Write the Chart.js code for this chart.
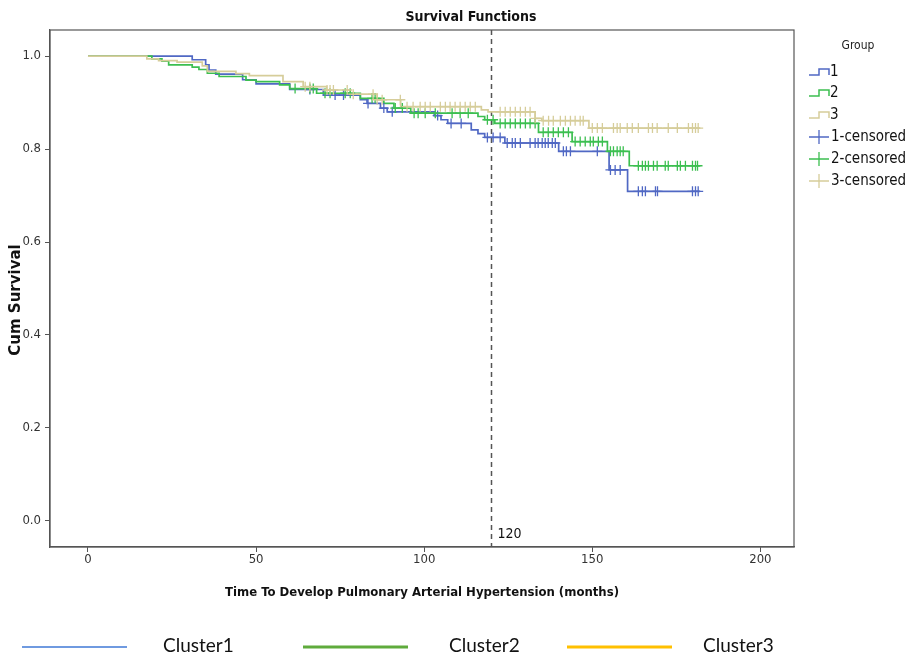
<!DOCTYPE html>
<html><head><meta charset="utf-8">
<script src="https://cdn.jsdelivr.net/npm/chart.js@4/dist/chart.umd.min.js"></script>
<style>html,body{margin:0;padding:0;background:#fff}canvas{display:block}</style>
</head><body>
<canvas id="c" width="914" height="657"></canvas>
<script>
// ---- data ----
const groupNames = ['1', '2', '3'];
const censoredNames = ['1-censored', '2-censored', '3-censored'];
const clusterNames = ['Cluster1', 'Cluster2', 'Cluster3'];
const xTicks = [0, 50, 100, 150, 200];
const yTicks = [0.0, 0.2, 0.4, 0.6, 0.8, 1.0];
const refTime = 120;

const g1Time = [0, 31, 35, 36, 38, 46, 50, 60, 70, 81, 83, 87, 89, 103, 105, 107, 114, 116, 118, 124, 140, 155, 160.5, 182];
const g1Surv = [1.0, 0.992, 0.981, 0.970, 0.961, 0.949, 0.940, 0.928, 0.916, 0.906, 0.898, 0.888, 0.880, 0.872, 0.863, 0.855, 0.841, 0.833, 0.825, 0.813, 0.795, 0.755, 0.709, 0.709];
const g1Cens = [66, 73.5, 76, 83.3, 88, 90.5, 104, 108, 111, 118.8, 120.5, 122.6, 124.7, 126.2, 127.1, 128.6, 131.5, 133, 133.9, 135.1, 136, 136.9, 138.1, 139, 141.4, 142.3, 143.5, 151.5, 155.4, 156.8, 158.3, 163.7, 164.9, 165.8, 168.8, 169.4, 179.8, 180.7, 181.5];

const g2Time = [0, 19, 22, 24, 31, 33, 35.5, 39, 47, 50, 57, 60, 68, 81, 88, 91, 96, 116, 118, 121, 134, 144, 154.5, 161, 182];
const g2Surv = [1.0, 0.994, 0.989, 0.981, 0.976, 0.971, 0.963, 0.956, 0.948, 0.945, 0.938, 0.930, 0.920, 0.909, 0.898, 0.888, 0.877, 0.870, 0.863, 0.855, 0.836, 0.816, 0.795, 0.764, 0.764];
const g2Cens = [61.6, 66, 67, 70.5, 72, 76.5, 78, 84.5, 85.4, 91.4, 93.5, 97, 98.2, 100.3, 103.3, 108.3, 110.7, 113.1, 118.8, 120.5, 122.6, 124.1, 125.6, 127.1, 128.6, 130.1, 131.5, 133, 135.4, 136.9, 138.4, 139.9, 141.4, 142.9, 144.9, 146.4, 147.9, 149.4, 150.3, 151.8, 153, 155.4, 156.3, 157.4, 158.3, 159.2, 163.7, 164.9, 165.8, 166.7, 168.2, 169.3, 171.7, 172.6, 175.3, 176.2, 177.7, 179.8, 180.7, 181.3];

const g3Time = [0, 17.5, 21, 26.5, 34, 35.5, 44, 48, 58, 64, 71, 78, 86, 93, 117, 119, 133, 135, 149, 182];
const g3Surv = [1.0, 0.994, 0.990, 0.987, 0.979, 0.967, 0.962, 0.958, 0.945, 0.934, 0.927, 0.918, 0.906, 0.891, 0.884, 0.880, 0.866, 0.861, 0.845, 0.845];
const g3Cens = [64.6, 66, 71.1, 72, 73, 77.1, 78.9, 84.8, 86, 87.5, 92.9, 94.9, 96.7, 98.8, 100.3, 101.8, 104.8, 106.3, 107.7, 109.2, 110.7, 112.2, 113.7, 115.2, 122.6, 124.1, 125.6, 127.1, 128.6, 130.1, 131.5, 133, 135.4, 137, 138.4, 140.5, 142, 143.5, 144.9, 146.4, 147.3, 150, 151.5, 153, 156.3, 157.4, 158.3, 160.4, 161.9, 163.7, 166.7, 167.9, 169.3, 172.6, 175.3, 178.6, 179.8, 180.7, 181.5];

// ---- styles ----
const curveColors = ['#5068c4', '#3cbf50', '#d6cd9a'];
const clusterColors = ['#6f9ae0', '#5fab3c', '#ffc000'];
const NARROW = "'Liberation Sans Narrow','DejaVu Sans Condensed','Roboto Condensed',sans-serif";

function survAt(times, surv, t) {
  let v = surv[0];
  for (let i = 0; i < times.length; i++) { if (times[i] <= t) v = surv[i]; }
  return v;
}

const groups = [[g1Time, g1Surv, g1Cens], [g2Time, g2Surv, g2Cens], [g3Time, g3Surv, g3Cens]];
const datasets = [];
groups.forEach((g, k) => {
  datasets.push({
    label: groupNames[k], type: 'line',
    data: g[0].map((t, i) => ({x: t, y: g[1][i]})),
    stepped: 'before', borderColor: curveColors[k], borderWidth: 1.7,
    pointRadius: 0, fill: false, order: 10 - k
  });
});
groups.forEach((g, k) => {
  datasets.push({
    label: censoredNames[k], type: 'line', showLine: false,
    data: g[2].map(t => ({x: t, y: survAt(g[0], g[1], t)})),
    pointStyle: 'cross', pointRadius: 5, pointBorderWidth: 1.3,
    borderColor: curveColors[k], pointBorderColor: curveColors[k], order: 5 - k
  });
});

const deco = {
  id: 'deco',
  beforeDatasetsDraw(chart) {
    const {ctx, chartArea: a, scales: {x}} = chart;
    const px = Math.round(x.getPixelForValue(refTime)) + 0.5;
    ctx.save();
    ctx.strokeStyle = '#555'; ctx.lineWidth = 1.5; ctx.setLineDash([5, 4]);
    ctx.beginPath(); ctx.moveTo(px, a.top); ctx.lineTo(px, a.bottom); ctx.stroke();
    ctx.restore();
  },
  afterDraw(chart) {
    const {ctx, chartArea: a, scales: {x}} = chart;
    ctx.save();
    // frame
    ctx.strokeStyle = '#555'; ctx.lineWidth = 1.2;
    ctx.strokeRect(a.left, a.top, a.right - a.left, a.bottom - a.top);
    // ref label
    const px = x.getPixelForValue(refTime);
    ctx.fillStyle = '#111'; ctx.font = '14px ' + NARROW; ctx.textAlign = 'left'; ctx.textBaseline = 'middle';
    ctx.fillText(String(refTime), px + 6, 534);
    // title
    ctx.font = 'bold 14px ' + NARROW; ctx.textAlign = 'center';
    ctx.fillText('Survival Functions', 471, 17);
    // x title
    ctx.font = 'bold 13px ' + NARROW;
    ctx.fillText('Time To Develop Pulmonary Arterial Hypertension (months)', (a.left + a.right) / 2, 593);
    // y title
    ctx.save();
    ctx.translate(16, 300); ctx.rotate(-Math.PI / 2);
    ctx.font = "bold 15px 'DejaVu Sans',sans-serif";
    ctx.fillText('Cum Survival', 0, 0);
    ctx.restore();
    // right legend
    ctx.font = '12px ' + NARROW; ctx.fillStyle = '#222';
    ctx.fillText('Group', 858, 46);
    ctx.textAlign = 'left';
    ctx.font = '15px ' + NARROW;
    const rowY = [72, 93, 115, 137, 159, 181];
    for (let k = 0; k < 3; k++) {
      const y = rowY[k];
      ctx.strokeStyle = curveColors[k]; ctx.lineWidth = 1.5;
      ctx.beginPath();
      ctx.moveTo(809, y + 3); ctx.lineTo(819, y + 3); ctx.lineTo(819, y - 3); ctx.lineTo(829, y - 3); ctx.lineTo(829, y + 3);
      ctx.stroke();
      ctx.fillStyle = '#111';
      ctx.fillText(groupNames[k], 830, y);
    }
    for (let k = 0; k < 3; k++) {
      const y = rowY[k + 3];
      ctx.strokeStyle = curveColors[k]; ctx.lineWidth = 1.3;
      ctx.beginPath();
      ctx.moveTo(809, y); ctx.lineTo(829, y); ctx.moveTo(819, y - 7); ctx.lineTo(819, y + 7);
      ctx.stroke();
      ctx.fillStyle = '#111';
      ctx.fillText(censoredNames[k], 831, y);
    }
    // bottom legend
    const lx = [[22, 127, 163], [303, 408, 449], [567, 672, 703]];
    ctx.font = "19px Lato, 'Open Sans', sans-serif";
    for (let k = 0; k < 3; k++) {
      ctx.strokeStyle = clusterColors[k]; ctx.lineWidth = k === 0 ? 2 : 3;
      ctx.beginPath(); ctx.moveTo(lx[k][0], 647); ctx.lineTo(lx[k][1], 647); ctx.stroke();
      ctx.fillStyle = '#111';
      ctx.fillText(clusterNames[k], lx[k][2], 646);
    }
    ctx.restore();
  }
};

new Chart(document.getElementById('c'), {
  type: 'line',
  data: {datasets},
  options: {
    responsive: false, animation: false,
    layout: {padding: {top: 30, right: 120, left: 0, bottom: 0}},
    plugins: {legend: {display: false}, tooltip: {enabled: false}},
    scales: {
      x: {
        type: 'linear', min: -11.3, max: 210,
        afterBuildTicks: s => { s.ticks = xTicks.map(v => ({value: v})); },
        afterFit: s => { s.height = 110; },
        ticks: {color: '#333', font: {size: 13, family: NARROW}, padding: 0, maxRotation: 0, callback: v => String(v)},
        grid: {drawOnChartArea: false, drawTicks: true, tickLength: 5, color: '#555'},
        border: {color: '#555', width: 1.2}
      },
      y: {
        type: 'linear', min: -0.056, max: 1.056,
        afterBuildTicks: s => { s.ticks = yTicks.map(v => ({value: v})); },
        afterFit: s => { s.width = 50; },
        ticks: {color: '#333', font: {size: 13, family: NARROW}, padding: 4, callback: v => Number(v).toFixed(1)},
        grid: {drawOnChartArea: false, drawTicks: true, tickLength: 5, color: '#555'},
        border: {color: '#555', width: 1.2}
      }
    }
  },
  plugins: [deco]
});
</script>
</body></html>
